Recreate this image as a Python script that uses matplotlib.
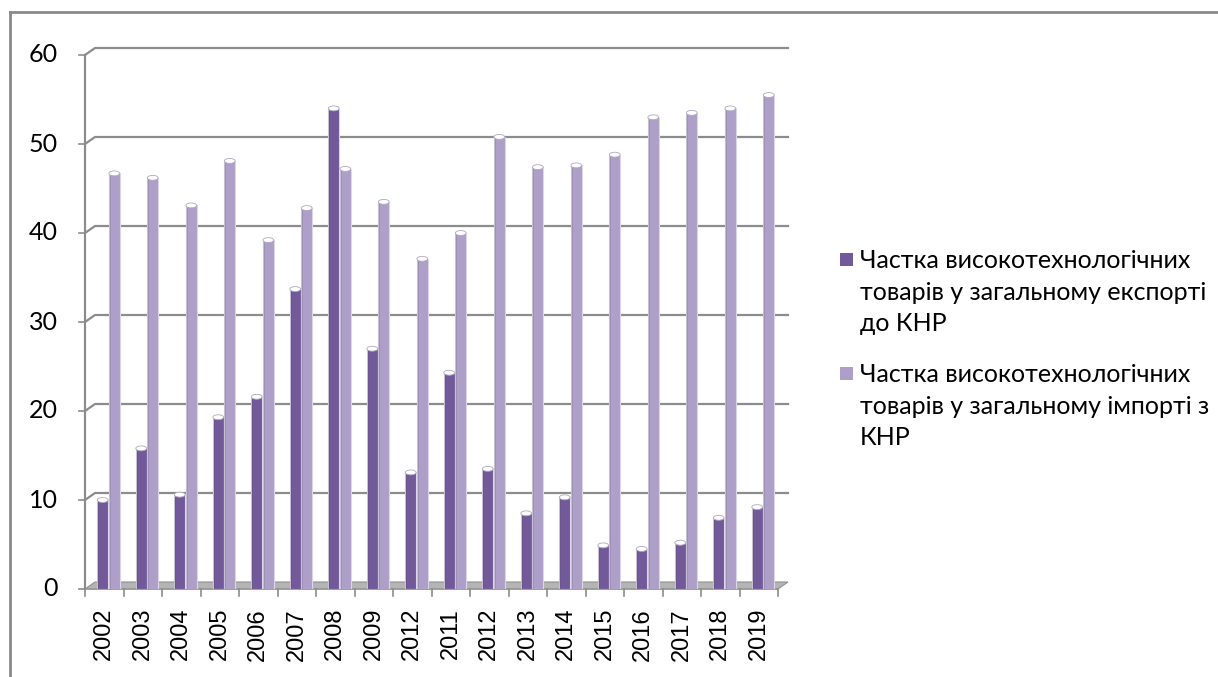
import matplotlib
matplotlib.use("Agg")
import matplotlib.pyplot as plt
import numpy as np
from matplotlib.patches import Rectangle, Ellipse, Polygon
from matplotlib.lines import Line2D

years = ["2002", "2003", "2004", "2005", "2006", "2007", "2008", "2009", "2012",
         "2011", "2012", "2013", "2014", "2015", "2016", "2017", "2018", "2019"]
export_share = [10.0, 15.8, 10.6, 19.3, 21.6, 33.7, 54.0, 27.0, 13.1,
                24.3, 13.5, 8.5, 10.3, 4.9, 4.5, 5.2, 8.0, 9.2]
import_share = [46.7, 46.2, 43.1, 48.1, 39.2, 42.8, 47.2, 43.5, 37.1,
                40.0, 50.8, 47.4, 47.6, 48.8, 53.0, 53.5, 54.0, 55.5]
labels = ["Частка високотехнологічних\nтоварів у загальному експорті\nдо КНР",
          "Частка високотехнологічних\nтоварів у загальному імпорті з\nКНР"]
y_ticks = [0, 10, 20, 30, 40, 50, 60]

c_dark = "#72599a"
c_light = "#ad9fc8"
grid_c = "#8c8c8c"

W, H = 1218, 677
fig = plt.figure(figsize=(W / 100, H / 100), dpi=100)

x_left, x_right = 85, 778
y_bot, y_top = 589, 55
ax = fig.add_axes([x_left / W, 1 - y_bot / H, (x_right - x_left) / W, (y_bot - y_top) / H])
n = len(years)
ax.set_xlim(-0.5, n - 0.5)
ax.set_ylim(0, 60)
ax.axis("off")

px_x = (n) / (x_right - x_left)      # data units per pixel (x)
px_y = 60 / (y_bot - y_top)          # data units per pixel (y)
dxb = 10 * px_x                      # back wall offset
dyb = 7 * px_y

# floor
floor = Polygon([(-0.5, 0), (n - 0.5, 0), (n - 0.5 + dxb, dyb), (-0.5 + dxb, dyb)],
                closed=True, facecolor="#b4b4b4", edgecolor="#909090", lw=0.8,
                clip_on=False, zorder=1)
ax.add_patch(floor)

# back-wall gridlines with diagonal from front axis
for v in y_ticks[1:]:
    ax.plot([-0.5, -0.5 + dxb, n - 0.5 + dxb], [v, v + dyb, v + dyb],
            color=grid_c, lw=1.6, clip_on=False, zorder=0.5)
    ax.plot([-0.5 - 6 * px_x, -0.5], [v, v], color=grid_c, lw=1.2, clip_on=False)
ax.plot([-0.5 - 6 * px_x, -0.5], [0, 0], color=grid_c, lw=1.2, clip_on=False)

# left axis line
ax.plot([-0.5, -0.5], [0, 60], color=grid_c, lw=1.6, clip_on=False, zorder=2)
# bottom axis line + ticks between categories
ax.plot([-0.5, n - 0.5], [0, 0], color="#9a9a9a", lw=1.2, clip_on=False, zorder=2)
for b in np.arange(-0.5, n, 1.0):
    ax.plot([b, b], [0, -7 * px_y], color=grid_c, lw=1.2, clip_on=False)

xs = np.arange(n)
bw = 0.28
off_d, off_l = -0.04, 0.26
cap_h = 0.55

def draw_bars(offset, vals, color):
    bars = ax.bar(xs + offset, vals, width=bw, color=color, edgecolor="#ddd6ea",
                  lw=0.8, zorder=3)
    for xi, v in zip(xs, vals):
        ax.add_patch(Rectangle((xi + offset - bw / 2, 0), bw * 0.18, v,
                               facecolor="black", alpha=0.10, lw=0, zorder=3.1))
        ax.add_patch(Ellipse((xi + offset, v), bw, cap_h, facecolor="white",
                             edgecolor="#b0a8c0", lw=0.6, zorder=3.2))
    return bars

draw_bars(off_d, export_share, c_dark)
draw_bars(off_l, import_share, c_light)

# tick labels
for v in y_ticks:
    ax.text(-0.5 - 27 * px_x, v, str(v), ha="right", va="center", fontsize=18,
            family="Lato", color="black", clip_on=False)
for xi, lab in zip(xs, years):
    ax.text(xi, -19 * px_y, lab, rotation=90, ha="center", va="top", fontsize=17,
            family="Liberation Sans", color="black", clip_on=False)

# outer border (top and left visible)
fig.add_artist(Line2D([10 / W, 10 / W], [0, 1 - 12 / H], transform=fig.transFigure,
                      color="#8a8a8a", lw=2))
fig.add_artist(Line2D([10 / W, 1], [1 - 12 / H, 1 - 12 / H], transform=fig.transFigure,
                      color="#8a8a8a", lw=2))

# legend
for (ytop, sq_bot, lab, col) in [(249, 266, labels[0], c_dark), (363, 380, labels[1], c_light)]:
    fig.add_artist(Rectangle((840 / W, 1 - sq_bot / H), 13 / W, 13 / H,
                             transform=fig.transFigure, facecolor=col, edgecolor="none"))
    fig.text(860 / W, 1 - ytop / H, lab, ha="left", va="top", fontsize=18,
             family="Lato", linespacing=1.45, color="black")

fig.savefig("out.png", dpi=100)
